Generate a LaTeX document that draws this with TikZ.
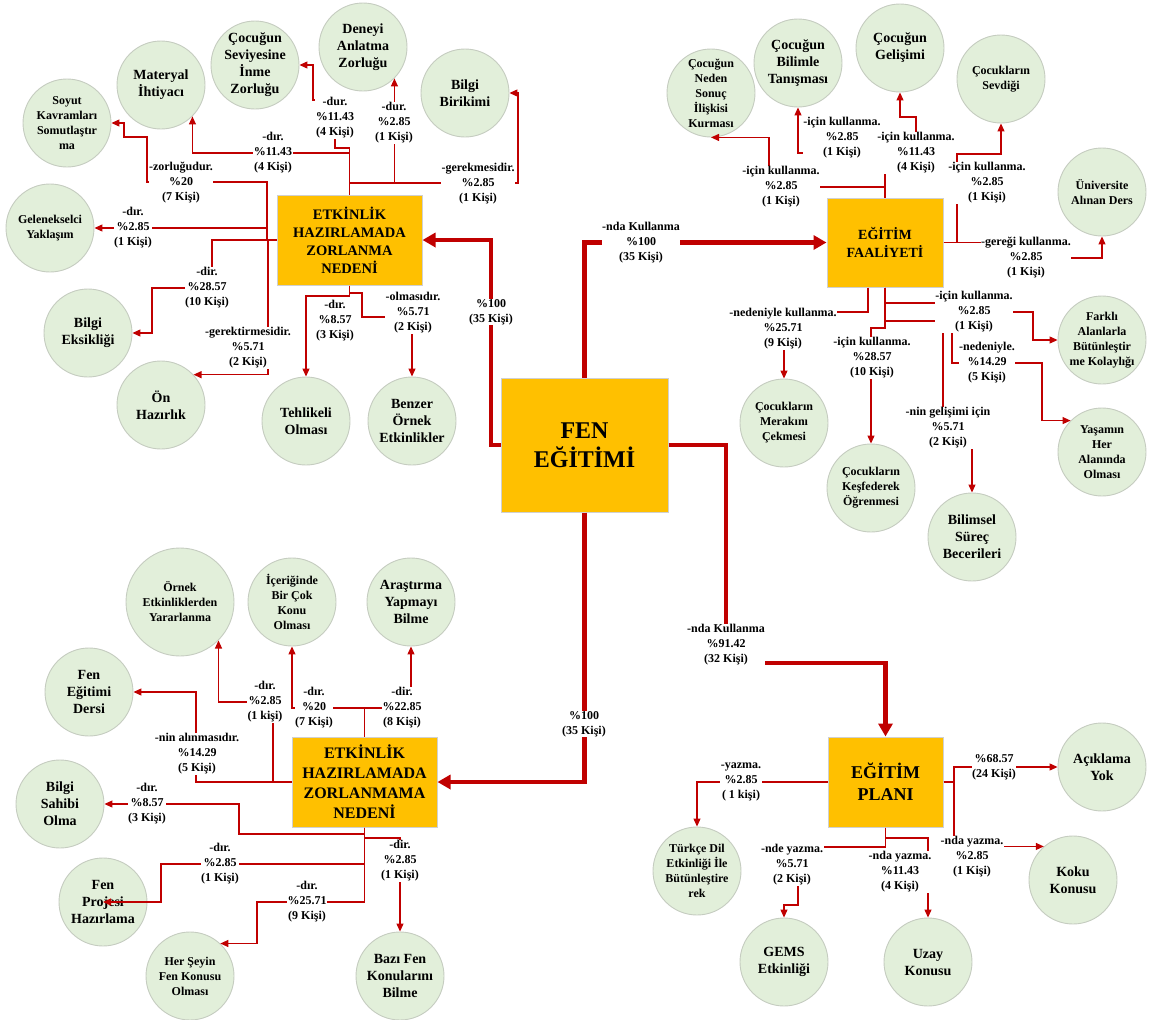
\documentclass[tikz,border=0pt]{standalone}
\usepackage{fontspec}
\setmainfont{Liberation Serif}
\usetikzlibrary{arrows.meta}
\definecolor{cred}{HTML}{C00000}
\definecolor{bubfill}{HTML}{E2EFDA}
\definecolor{bubedge}{HTML}{C5CCC0}
\definecolor{boxfill}{HTML}{FFC000}
\definecolor{boxedge}{HTML}{D0D0D0}
\newcommand\bubble[5][bt]{\node[bub] (#2) at (#3,#4) {}; \node[#1] (#2t) at (#2) {#5};}
\begin{document}
\begin{tikzpicture}[x=1pt,y=-1pt,
 bub/.style={circle,draw=bubedge,fill=bubfill,line width=0.9pt,minimum size=88pt,inner sep=0pt},
 bt/.style={align=center,font=\bfseries\fontsize{14}{17}\selectfont,inner sep=0pt},
 bs/.style={align=center,font=\bfseries\fontsize{12}{15}\selectfont,inner sep=0pt},
 hub/.style={rectangle,draw=boxedge,fill=boxfill,line width=1pt,align=center,inner sep=0pt},
 lab/.style={align=center,font=\bfseries\fontsize{12}{15}\selectfont,fill=white,inner sep=0.5pt},
 conn/.style={draw=cred,line width=1.1pt,-{Triangle[length=8pt,width=7pt]}},
 mainconn/.style={draw=cred,line width=4.5pt,-{Triangle[length=13pt,width=14pt]}},
]
\path[use as bounding box] (0,0) rectangle (1152,1020);

% ---------- hubs ----------
\node[hub,minimum width=167pt,minimum height=134pt,font=\bfseries\fontsize{24}{29}\selectfont] (fen) at (584.5,445) {FEN\\EĞİTİMİ};
\node[hub,minimum width=145pt,minimum height=90pt,font=\bfseries\fontsize{14.5}{18}\selectfont] (z1) at (349.5,240) {ETKİNLİK\\HAZIRLAMADA\\ZORLANMA\\NEDENİ};
\node[hub,minimum width=145pt,minimum height=90pt,font=\bfseries\fontsize{16}{20}\selectfont] (z2) at (364.5,782) {ETKİNLİK\\HAZIRLAMADA\\ZORLANMAMA\\NEDENİ};
\node[hub,minimum width=116pt,minimum height=89pt,font=\bfseries\fontsize{14}{18}\selectfont] (ef) at (885,242.5) {EĞİTİM\\FAALİYETİ};
\node[hub,minimum width=115pt,minimum height=90pt,font=\bfseries\fontsize{18}{22}\selectfont] (ep) at (885.5,782) {EĞİTİM\\PLANI};

% ---------- circles: top-left ----------
\bubble[bs]{c1}{67}{123}{Soyut\\Kavramları\\Somutlaştır\\ma}
\bubble{c2}{161}{85}{Materyal\\İhtiyacı}
\bubble{c3}{255}{65}{Çocuğun\\Seviyesine\\İnme\\Zorluğu}
\bubble{c4}{363}{47}{Deneyi\\Anlatma\\Zorluğu}
\bubble{c5}{465}{93}{Bilgi\\Birikimi}
\bubble[bs]{c6}{50}{228}{Gelenekselci\\Yaklaşım}
\bubble{c7}{88}{333}{Bilgi\\Eksikliği}
\bubble{c8}{161}{405}{Ön\\Hazırlık}
\bubble{c9}{306}{421}{Tehlikeli\\Olması}
\bubble{c10}{412}{421}{Benzer\\Örnek\\Etkinlikler}

% ---------- circles: top-right ----------
\bubble[bs]{d1}{711}{93}{Çocuğun\\Neden\\Sonuç\\İlişkisi\\Kurması}
\bubble{d2}{798}{63}{Çocuğun\\Bilimle\\Tanışması}
\bubble{d3}{900}{48}{Çocuğun\\Gelişimi}
\bubble[bs]{d4}{1001}{79}{Çocukların\\Sevdiği}
\bubble[bs]{d5}{1102}{192}{Üniversite\\Alınan Ders}
\bubble[bs]{d6}{1102}{340}{Farklı\\Alanlarla\\Bütünleştir\\me Kolaylığı}
\bubble[bs]{d7}{1102}{452}{Yaşamın\\Her\\Alanında\\Olması}
\bubble[bs]{d8}{784}{423}{Çocukların\\Merakını\\Çekmesi}
\bubble[bs]{d9}{871}{488}{Çocukların\\Keşfederek\\Öğrenmesi}
\bubble{d10}{972}{537}{Bilimsel\\Süreç\\Becerileri}

% ---------- circles: bottom-left ----------
\node[bub,minimum size=108pt] (e1) at (180,602) {};
\node[bs] (e1t) at (e1) {Örnek\\Etkinliklerden\\Yararlanma};
\bubble[bs]{e2}{292}{602}{İçeriğinde\\Bir Çok\\Konu\\Olması}
\bubble{e3}{411}{602}{Araştırma\\Yapmayı\\Bilme}
\bubble{e4}{89}{692}{Fen\\Eğitimi\\Dersi}
\bubble{e5}{60}{804}{Bilgi\\Sahibi\\Olma}
\bubble{e6}{103}{902}{Fen\\Projesi\\Hazırlama}
\bubble[bs]{e7}{190}{976}{Her Şeyin\\Fen Konusu\\Olması}
\bubble{e8}{400}{976}{Bazı Fen\\Konularını\\Bilme}

% ---------- circles: bottom-right ----------
\bubble[bs]{f1}{697}{871}{Türkçe Dil\\Etkinliği İle\\Bütünleştire\\rek}
\bubble{f2}{784}{962}{GEMS\\Etkinliği}
\bubble{f3}{928}{962}{Uzay\\Konusu}
\bubble{f4}{1073}{880}{Koku\\Konusu}
\bubble{f5}{1102}{767}{Açıklama\\Yok}

% ---------- main connectors ----------
\draw[mainconn] (fen.west) -- (491,445) |- (z1.east);
\draw[mainconn] (fen.north) |- (ef.west);
\draw[mainconn] (fen.east) -- (726,445) -- (726,663) -| (ep.north);
\draw[mainconn] (fen.south) |- (z2.east);

% ---------- z1 connectors ----------
\draw[conn] (z1.west) -- (267,240) -- (267,182) -- (147,182) -- (147,137) -- (124,137) |- (c1.east);
\draw[conn] (z1.north) -- (349.5,153) -| (c2.-45);
\draw[conn] (z1.north) -- (349.5,148) -- (335,148) -- (335,100) -- (313,100) |- (c3.east);
\draw[conn] (z1.north) -- (349.5,183) -| (c4.-45);
\draw[conn] (z1.north) -- (349.5,183) -- (518,183) |- (c5.east);
\draw[conn] (z1.west) -- (267,240) |- (c6.east);
\draw[conn] (z1.west) -- (212,240) -- (212,288) -- (152,288) |- (c7.east);
\draw[conn] (z1.west) -- (268,240) |- (c8.43);
\draw[conn] (z1.south) -- (349.5,296) -| (c9.north);
\draw[conn] (z1.south) -- (349.5,293) -- (362,293) -- (362,317) -| (c10.north);

% ---------- ef connectors ----------
\draw[conn] (ef.north) -- (885,187) -- (769,187) |- (d1.south);
\draw[conn] (ef.north) -- (885,153) -| (d2.south);
\draw[conn] (ef.north) -- (885,153) -- (916,153) -- (916,117) -| (d3.south);
\draw[conn] (ef.east) -- (957,242.5) -- (957,154) -| (d4.south);
\draw[conn] (ef.east) -- (1010,242.5) -- (1010,258) -| (d5.south);
\draw[conn] (ef.south) -- (885,303) -- (950,303) -- (950,312) -- (1033,312) |- (d6.west);
\draw[conn] (ef.south) -- (885,321) -- (952,321) -- (952,363) -- (1042,363) |- (d7.135);
\draw[conn] (ef.south) -- (885,321) -- (943,321) -- (943,420) -| (d10.north);
\draw[conn] (ef.south) -- (885,328) -| (d9.north);
\draw[conn] ([xshift=-17pt]ef.south) -- (868,312) -| (d8.north);

% ---------- z2 connectors ----------
\draw[conn] (z2.north) -- (364.5,708) -| (e2.south);
\draw[conn] (z2.north) -- (364.5,708) -| (e3.south);
\draw[conn] (z2.west) -- (273,782) -- (273,702) -| (e1.-45);
\draw[conn] (z2.west) -- (196,782) |- (e4.east);
\draw[conn] (z2.south) -- (364.5,834) -- (239,834) |- (e5.east);
\draw[conn] (z2.south) -- (364.5,838) -| (e8.north);
\draw[conn] (z2.south) -- (364.5,864) -- (161,864) |- (e6.center);
\draw[conn] (z2.south) -- (364.5,902) -- (257,902) |- (e7.47);

% ---------- ep connectors ----------
\draw[conn] (ep.west) -| (f1.north);
\draw[conn] (ep.east) -- (954,782) |- (f5.west);
\draw[conn] (ep.east) -- (954,782) |- (f4.131);
\draw[conn] (ep.south) -- (885.5,838) -| (f3.north);
\draw[conn] (ep.south) -- (885.5,847) -- (798,847) -- (798,905) -| (f2.north);

% ---------- labels ----------
\node[lab] (m1) at (491,312) {\%100\\(35 Kişi)};
\node[lab] (m2) at (641,243) {-nda Kullanma\\\%100\\(35 Kişi)};
\node[lab] (m3) at (726,645) {-nda Kullanma\\\%91.42\\(32 Kişi)};
\node[lab] (m4) at (584,724) {\%100\\(35 Kişi)};

\node[lab] (la1) at (181,183) {-zorluğudur.\\\%20\\(7 Kişi)};
\node[lab] (la2) at (273,153) {-dır.\\\%11.43\\(4 Kişi)};
\node[lab] (la3) at (335,118) {-dur.\\\%11.43\\(4 Kişi)};
\node[lab] (la4) at (394,123) {-dur.\\\%2.85\\(1 Kişi)};
\node[lab] (la5) at (478,184) {-gerekmesidir.\\\%2.85\\(1 Kişi)};
\node[lab] (la6) at (133,228) {-dır.\\\%2.85\\(1 Kişi)};
\node[lab] (la7) at (207,288) {-dir.\\\%28.57\\(10 Kişi)};
\node[lab] (la8) at (248,348) {-gerektirmesidir.\\\%5.71\\(2 Kişi)};
\node[lab] (la9) at (335,321) {-dır.\\\%8.57\\(3 Kişi)};
\node[lab] (la10) at (413,313) {-olmasıdır.\\\%5.71\\(2 Kişi)};

\node[lab] (lb1) at (781,187) {-için kullanma.\\\%2.85\\(1 Kişi)};
\node[lab] (lb2) at (842,138) {-için kullanma.\\\%2.85\\(1 Kişi)};
\node[lab] (lb3) at (916,153) {-için kullanma.\\\%11.43\\(4 Kişi)};
\node[lab] (lb4) at (987,183) {-için kullanma.\\\%2.85\\(1 Kişi)};
\node[lab] (lb5) at (1026,258) {-gereği kullanma.\\\%2.85\\(1 Kişi)};
\node[lab] (lb6) at (974,312) {-için kullanma.\\\%2.85\\(1 Kişi)};
\node[lab] (lb7) at (987,363) {-nedeniyle.\\\%14.29\\(5 Kişi)};
\node[lab] (lb8) at (948,428) {-nin gelişimi için\\\%5.71\\(2 Kişi)};
\node[lab] (lb10) at (783,329) {-nedeniyle kullanma.\\\%25.71\\(9 Kişi)};
\node[lab] (lb9) at (872,358) {-için kullanma.\\\%28.57\\(10 Kişi)};

\node[lab] (lc1) at (314,708) {-dır.\\\%20\\(7 Kişi)};
\node[lab] (lc2) at (402,708) {-dir.\\\%22.85\\(8 Kişi)};
\node[lab] (lc3) at (265,702) {-dır.\\\%2.85\\(1 kişi)};
\node[lab] (lc4) at (197,754) {-nin alınmasıdır.\\\%14.29\\(5 Kişi)};
\node[lab] (lc5) at (147,804) {-dır.\\\%8.57\\(3 Kişi)};
\node[lab] (lc6) at (400,861) {-dir.\\\%2.85\\(1 Kişi)};
\node[lab] (lc7) at (220,864) {-dır.\\\%2.85\\(1 Kişi)};
\node[lab] (lc8) at (307,902) {-dır.\\\%25.71\\(9 Kişi)};

\node[lab] (ld1) at (741,782) {-yazma.\\\%2.85\\( 1 kişi)};
\node[lab] (ld2) at (994,767) {\%68.57\\(24 Kişi)};
\node[lab] (ld3) at (972,857) {-nda yazma.\\\%2.85\\(1 Kişi)};
\node[lab] (ld4) at (900,872) {-nda yazma.\\\%11.43\\(4 Kişi)};
\node[lab] (ld5) at (792,865) {-nde yazma.\\\%5.71\\(2 Kişi)};
\end{tikzpicture}
\end{document}
